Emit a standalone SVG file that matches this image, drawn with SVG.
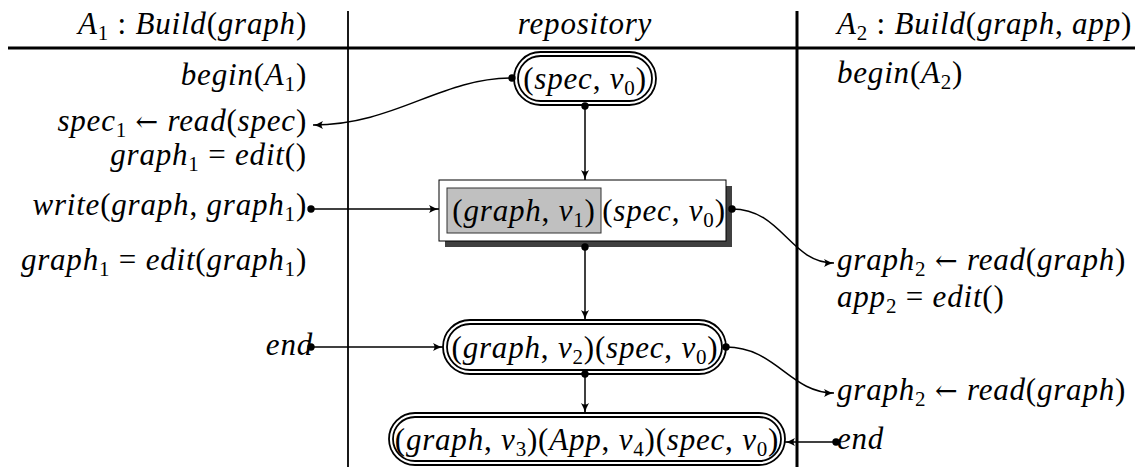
<svg xmlns="http://www.w3.org/2000/svg" width="1135" height="467" viewBox="0 0 1135 467">
<style>
.m{font-family:"Liberation Serif","DejaVu Serif",serif;font-size:31px;font-style:italic;letter-spacing:0.8px;fill:#000}
.r{font-style:normal}
.a{font-style:normal;font-family:"DejaVu Serif",serif;font-size:27px}
.s{font-style:normal;font-size:21px}
.frame{stroke:#000;fill:none}
.node{fill:#fff;stroke:#000;stroke-width:1.8}
.node2{fill:none;stroke:#000;stroke-width:1.8}
.conn{fill:none;stroke:#000;stroke-width:1.5;marker-start:url(#dot);marker-end:url(#ah)}
</style>
<defs>
<marker id="ah" viewBox="0 0 12 10" markerWidth="12" markerHeight="10" refX="11" refY="5" orient="auto" markerUnits="userSpaceOnUse">
<path d="M1,1 Q6,4 11,5 Q6,6 1,9 Q4,5 1,1 z" fill="#000"/>
</marker>
<marker id="dot" viewBox="0 0 8 8" markerWidth="8" markerHeight="8" refX="4" refY="4" markerUnits="userSpaceOnUse">
<circle cx="4" cy="4" r="3.7" fill="#000"/>
</marker>
</defs>
<g id="frame">
<line class="frame" x1="8" y1="48" x2="1135" y2="48" stroke-width="3"/>
<line class="frame" x1="348" y1="11" x2="348" y2="467" stroke-width="1.8"/>
<line class="frame" x1="797" y1="11" x2="797" y2="467" stroke-width="3"/>
</g>
<g id="headers">
<text class="m" x="307" y="34" text-anchor="end">A<tspan class="s" dy="6">1</tspan><tspan class="r" dy="-6"> : </tspan>Build<tspan class="r">(</tspan>graph<tspan class="r">)</tspan></text>
<text class="m" x="585" y="34" text-anchor="middle">repository</text>
<text class="m" x="837" y="34">A<tspan class="s" dy="6">2</tspan><tspan class="r" dy="-6"> : </tspan>Build<tspan class="r">(</tspan>graph<tspan class="r">, </tspan>app<tspan class="r">)</tspan></text>
</g>
<g id="agent1">
<text class="m" x="307" y="85" text-anchor="end">begin<tspan class="r">(</tspan>A<tspan class="s" dy="6">1</tspan><tspan class="r" dy="-6">)</tspan></text>
<text class="m" x="307" y="131" text-anchor="end">spec<tspan class="s" dy="6">1</tspan><tspan class="r" dy="-6"> </tspan><tspan class="a">←</tspan><tspan class="r"> </tspan>read<tspan class="r">(</tspan>spec<tspan class="r">)</tspan></text>
<text class="m" x="307" y="165" text-anchor="end">graph<tspan class="s" dy="6">1</tspan><tspan class="r" dy="-6"> = </tspan>edit<tspan class="r">()</tspan></text>
<text class="m" x="307" y="215" text-anchor="end">write<tspan class="r">(</tspan>graph<tspan class="r">, </tspan>graph<tspan class="s" dy="6">1</tspan><tspan class="r" dy="-6">)</tspan></text>
<text class="m" x="307" y="270" text-anchor="end">graph<tspan class="s" dy="6">1</tspan><tspan class="r" dy="-6"> = </tspan>edit<tspan class="r">(</tspan>graph<tspan class="s" dy="6">1</tspan><tspan class="r" dy="-6">)</tspan></text>
<text class="m" x="313" y="355" text-anchor="end">end</text>
</g>
<g id="agent2">
<text class="m" x="837" y="83">begin<tspan class="r">(</tspan>A<tspan class="s" dy="6">2</tspan><tspan class="r" dy="-6">)</tspan></text>
<text class="m" x="837" y="270">graph<tspan class="s" dy="6">2</tspan><tspan class="r" dy="-6"> </tspan><tspan class="a">←</tspan><tspan class="r"> </tspan>read<tspan class="r">(</tspan>graph<tspan class="r">)</tspan></text>
<text class="m" x="837" y="307">app<tspan class="s" dy="6">2</tspan><tspan class="r" dy="-6"> = </tspan>edit<tspan class="r">()</tspan></text>
<text class="m" x="837" y="400">graph<tspan class="s" dy="6">2</tspan><tspan class="r" dy="-6"> </tspan><tspan class="a">←</tspan><tspan class="r"> </tspan>read<tspan class="r">(</tspan>graph<tspan class="r">)</tspan></text>
<text class="m" x="837" y="449">end</text>
</g>
<g id="n1">
<rect class="node" x="514" y="52" width="142" height="53" rx="26.5"/>
<rect class="node2" x="518" y="56" width="134" height="45" rx="22.5"/>
<text class="m" x="585" y="89" text-anchor="middle"><tspan class="r">(</tspan>spec<tspan class="r">, </tspan>v<tspan class="s" dy="6">0</tspan><tspan class="r" dy="-6">)</tspan></text>
</g>
<g id="n2">
<rect x="445" y="186" width="287" height="61" fill="#404040"/>
<rect x="439" y="180" width="287" height="61" fill="#fff" stroke="#000" stroke-width="1"/>
<rect x="447" y="188" width="154" height="45" fill="#c0c0c0" stroke="#333" stroke-width="1"/>
<text class="m" x="524" y="221" text-anchor="middle"><tspan class="r">(</tspan>graph<tspan class="r">, </tspan>v<tspan class="s" dy="6">1</tspan><tspan class="r" dy="-6">)</tspan></text>
<text class="m" x="664" y="221" text-anchor="middle"><tspan class="r">(</tspan>spec<tspan class="r">, </tspan>v<tspan class="s" dy="6">0</tspan><tspan class="r" dy="-6">)</tspan></text>
</g>
<g id="n3">
<rect class="node" x="443" y="320" width="283" height="54" rx="27"/>
<rect class="node2" x="447" y="324" width="275" height="46" rx="23"/>
<text class="m" x="585" y="358" text-anchor="middle"><tspan class="r">(</tspan>graph<tspan class="r">, </tspan>v<tspan class="s" dy="6">2</tspan><tspan class="r" dy="-6">)(</tspan>spec<tspan class="r">, </tspan>v<tspan class="s" dy="6">0</tspan><tspan class="r" dy="-6">)</tspan></text>
</g>
<g id="n4">
<rect class="node" x="389" y="413" width="396" height="52" rx="26"/>
<rect class="node2" x="393" y="417" width="388" height="44" rx="22"/>
<text class="m" x="587" y="450" text-anchor="middle"><tspan class="r">(</tspan>graph<tspan class="r">, </tspan>v<tspan class="s" dy="6">3</tspan><tspan class="r" dy="-6">)(</tspan>App<tspan class="r">, </tspan>v<tspan class="s" dy="6">4</tspan><tspan class="r" dy="-6">)(</tspan>spec<tspan class="r">, </tspan>v<tspan class="s" dy="6">0</tspan><tspan class="r" dy="-6">)</tspan></text>
</g>
<g id="connectors">
<path class="conn" d="M512,78 C440,78 395,125 313,125"/>
<path class="conn" d="M585,106 L585,180"/>
<path class="conn" d="M311,209 L439,209"/>
<path class="conn" d="M732,209 C782,209 790,263 834,263"/>
<path class="conn" d="M585,247 L585,320"/>
<path class="conn" d="M311,347 L443,347"/>
<path class="conn" d="M726,347 C776,347 790,393 834,393"/>
<path class="conn" d="M585,374 L585,413"/>
<path class="conn" d="M836,442 L785,442"/>
</g>
</svg>
